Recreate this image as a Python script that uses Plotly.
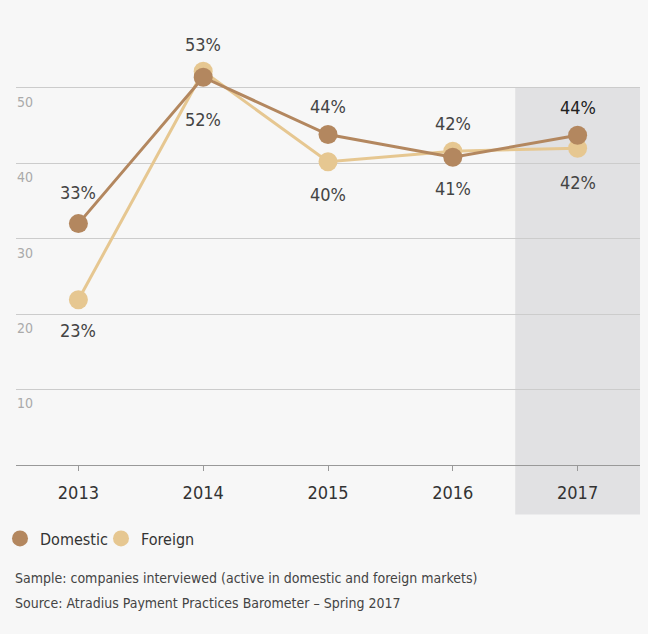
import plotly.graph_objects as go

years = [2013, 2014, 2015, 2016, 2017]
domestic = [32.0, 51.4, 43.8, 40.8, 43.7]
foreign = [21.9, 52.2, 40.2, 41.6, 42.0]
domestic_labels = ["33%", "52%", "44%", "41%", "44%"]
foreign_labels = ["23%", "53%", "40%", "42%", "42%"]
y_ticks = [10, 20, 30, 40, 50]
highlight_year = 2017

# label offsets (px, + is up) - style only
dom_shift = [31, -42, 28, -31, 28]
for_shift = [-31, 27, -33, 28, -34]

DOM_C = "#b3875f"
FOR_C = "#e6c791"
FONT = "DejaVu Sans Condensed, Roboto, sans-serif"
Y_RANGE = [0, 57]
W, H = 648, 634

fig = go.Figure()
fig.add_trace(go.Scatter(x=years, y=foreign, mode="lines+markers",
                         line=dict(color=FOR_C, width=3),
                         marker=dict(color=FOR_C, size=19), showlegend=False))
fig.add_trace(go.Scatter(x=years, y=domestic, mode="lines+markers",
                         line=dict(color=DOM_C, width=3),
                         marker=dict(color=DOM_C, size=19), showlegend=False))
# legend entries (marker only)
fig.add_trace(go.Scatter(x=[None], y=[None], mode="markers", name="Domestic",
                         marker=dict(color=DOM_C, size=16)))
fig.add_trace(go.Scatter(x=[None], y=[None], mode="markers", name="Foreign",
                         marker=dict(color=FOR_C, size=16)))

annotations = []
for i, yr in enumerate(years):
    annotations.append(dict(x=yr, y=domestic[i], text=domestic_labels[i], showarrow=False,
                            yshift=dom_shift[i], xref="x", yref="y",
                            font=dict(size=18, color="#222" if yr == highlight_year else "#444", family=FONT)))
    annotations.append(dict(x=yr, y=foreign[i], text=foreign_labels[i], showarrow=False,
                            yshift=for_shift[i], xref="x", yref="y",
                            font=dict(size=18, color="#444", family=FONT)))

annotations.append(dict(x=0, y=0, xref="paper", yref="paper", xanchor="left", yanchor="middle",
                        xshift=13, yshift=-112.5, showarrow=False, align="left",
                        text="Sample: companies interviewed (active in domestic and foreign markets)",
                        font=dict(size=14, color="#444", family=FONT)))
annotations.append(dict(x=0, y=0, xref="paper", yref="paper", xanchor="left", yanchor="middle",
                        xshift=13, yshift=-137.5, showarrow=False, align="left",
                        text="Source: Atradius Payment Practices Barometer \u2013 Spring 2017",
                        font=dict(size=14, color="#444", family=FONT)))

top_paper = 50 / (Y_RANGE[1] - Y_RANGE[0])
fig.add_shape(type="rect", xref="x", yref="paper",
              x0=highlight_year - 0.5, x1=highlight_year + 0.5,
              y0=-0.115, y1=top_paper, fillcolor="#e1e1e3", line=dict(width=0), layer="below")

fig.update_layout(
    width=W, height=H,
    margin=dict(l=0, r=0, t=35, b=169),
    paper_bgcolor="#f7f7f7", plot_bgcolor="rgba(0,0,0,0)",
    font=dict(family=FONT, color="#444"),
    annotations=annotations,
    legend=dict(orientation="h", x=0, xanchor="left", y=-0.171, yanchor="middle",
                entrywidth=56, entrywidthmode="pixels", itemwidth=30,
                font=dict(size=16, color="#333", family=FONT), bgcolor="rgba(0,0,0,0)"),
    xaxis=dict(domain=[16 / W, 640 / W], range=[2012.5, 2017.5], tickvals=years,
               ticktext=[str(y) for y in years],
               showgrid=False, zeroline=False, showline=True, linecolor="#999", linewidth=1,
               ticks="outside", ticklen=5, tickcolor="#999", ticklabelstandoff=6,
               tickfont=dict(size=18, color="#333", family=FONT)),
    xaxis2=dict(domain=[16 / W, 640 / W], range=[2012.5, 2017.5], tickvals=years,
                overlaying="x", anchor="y", side="bottom",
                showgrid=False, zeroline=False, showline=False, ticks="inside", ticklen=5,
                tickcolor="#999", showticklabels=False),
    yaxis=dict(range=Y_RANGE, tickvals=y_ticks, showgrid=True, gridcolor="#cccccc", gridwidth=1,
               zeroline=False, showline=False, ticks="", ticklabelposition="inside",
               ticklabelshift=14, ticklabelstandoff=-2,
               tickfont=dict(size=14, color="#aaa", family=FONT)),
)
fig.write_html("out.html")
